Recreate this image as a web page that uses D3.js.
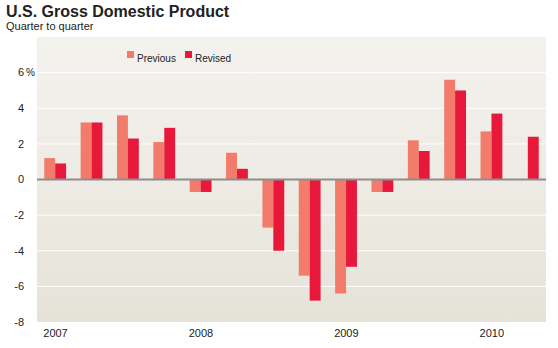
<!DOCTYPE html>
<html>
<head>
<meta charset="utf-8">
<script src="https://cdn.jsdelivr.net/npm/d3@7"></script>
<style>
  body { margin: 0; background: #fff; }
  text { font-family: "Liberation Sans", Arial, sans-serif; fill: #222; }
</style>
</head>
<body>
<script>
// quarters 2007Q1 .. 2010Q2
var quarters = ["2007Q1","2007Q2","2007Q3","2007Q4","2008Q1","2008Q2","2008Q3","2008Q4",
                "2009Q1","2009Q2","2009Q3","2009Q4","2010Q1","2010Q2"];
var previous = [1.2, 3.2, 3.6, 2.1, -0.7, 1.5, -2.7, -5.4, -6.4, -0.7, 2.2, 5.6, 2.7, null];
var revised  = [0.9, 3.2, 2.3, 2.9, -0.7, 0.6, -4.0, -6.8, -4.9, -0.7, 1.6, 5.0, 3.7, 2.4];
var yTicks = [6, 4, 2, 0, -2, -4, -6, -8];
var yearLabels = ["2007", "2008", "2009", "2010"];

var width = 558, height = 348;
var plot = {left: 37, right: 546, top: 37, bottom: 322};

var svg = d3.select("body").append("svg")
    .attr("width", width)
    .attr("height", height);

var defs = svg.append("defs");
var grad = defs.append("linearGradient").attr("id", "bg").attr("x1", 0).attr("y1", 0).attr("x2", 0).attr("y2", 1);
grad.append("stop").attr("offset", "0%").attr("stop-color", "#f4f2ee");
grad.append("stop").attr("offset", "50%").attr("stop-color", "#eeebe4");
grad.append("stop").attr("offset", "100%").attr("stop-color", "#e5e2d8");

// titles
svg.append("text").attr("x", 6).attr("y", 17)
    .style("font-size", "16px").style("font-weight", "bold")
    .text("U.S. Gross Domestic Product");
svg.append("text").attr("x", 6).attr("y", 30)
    .style("font-size", "11px")
    .text("Quarter to quarter");

var x0 = d3.scaleBand().domain(quarters).range([plot.left, plot.right])
    .paddingInner(0.4).paddingOuter(0.2);
var x1 = d3.scaleBand().domain(["prev", "rev"]).range([0, x0.bandwidth()]);
var y = d3.scaleLinear().domain([-8, 8]).range([plot.bottom, plot.top]);

var colors = {prev: "#f27b6b", rev: "#e8183b"};

svg.append("rect")
    .attr("x", plot.left).attr("y", plot.top)
    .attr("width", plot.right - plot.left).attr("height", plot.bottom - plot.top)
    .attr("fill", "url(#bg)");

// gridlines
svg.append("g").selectAll("line")
    .data(yTicks.filter(function(d){ return d !== 0 && d !== -8; }))
    .enter().append("line")
    .attr("x1", plot.left).attr("x2", plot.right)
    .attr("y1", function(d){ return y(d); }).attr("y2", function(d){ return y(d); })
    .attr("stroke", "#ffffff").attr("stroke-width", 1);

// y labels
var yl = svg.append("g").selectAll("text")
    .data(yTicks)
    .enter().append("text")
    .attr("x", 24)
    .attr("y", function(d){ return y(d); })
    .attr("dy", "0.35em")
    .attr("text-anchor", "end")
    .style("font-size", "11px")
    .text(function(d){ return d; });
svg.append("text")
    .attr("x", 26).attr("y", y(6)).attr("dy", "0.35em")
    .style("font-size", "10px")
    .text("%");

// bars
var rows = quarters.map(function(q, i){ return {q: q, prev: previous[i], rev: revised[i]}; });
var groups = svg.append("g").selectAll("g")
    .data(rows).enter().append("g")
    .attr("transform", function(d){ return "translate(" + x0(d.q) + ",0)"; });

groups.selectAll("rect")
    .data(function(d){
        return ["prev", "rev"].filter(function(k){ return d[k] !== null; })
            .map(function(k){ return {key: k, value: d[k]}; });
    })
    .enter().append("rect")
    .attr("x", function(d){ return x1(d.key); })
    .attr("width", x1.bandwidth())
    .attr("y", function(d){ return y(Math.max(0, d.value)); })
    .attr("height", function(d){ return Math.abs(y(d.value) - y(0)); })
    .attr("fill", function(d){ return colors[d.key]; });

// zero line
svg.append("line")
    .attr("x1", plot.left).attr("x2", plot.right)
    .attr("y1", y(0)).attr("y2", y(0))
    .attr("stroke", "#8e8e8e").attr("stroke-width", 2);

// year labels
svg.append("g").selectAll("text")
    .data(yearLabels).enter().append("text")
    .attr("x", function(d){ return x0(d + "Q1") - 1; })
    .attr("y", 337)
    .style("font-size", "11px")
    .text(function(d){ return d; });

// legend
var legend = [{key: "prev", label: "Previous", x: 127}, {key: "rev", label: "Revised", x: 185}];
var lg = svg.append("g").selectAll("g").data(legend).enter().append("g")
    .attr("transform", function(d){ return "translate(" + d.x + ",51)"; });
lg.append("rect").attr("width", 7).attr("height", 7)
    .attr("fill", function(d){ return colors[d.key]; });
lg.append("text").attr("x", 10).attr("y", 10.5)
    .style("font-size", "10px")
    .text(function(d){ return d.label; });
</script>
</body>
</html>
